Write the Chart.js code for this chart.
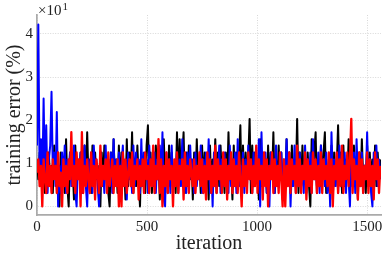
<!DOCTYPE html>
<html>
<head>
<meta charset="utf-8">
<script src="https://cdn.jsdelivr.net/npm/chart.js@4/dist/chart.umd.min.js"></script>
<style>
  html, body { margin: 0; padding: 0; background: #fff; }
  #chart { display: block; }
</style>
</head>
<body>
<canvas id="chart" width="386" height="257"></canvas>
<script>
// Error de entrenamiento (%), un punto cada 6 iteraciones
const iterStep = 6;

const errorRed = [
    7.8, 10.9, 4.7, 9.4, 0, 10.9, 6.3, 3.1, 12.5, 4.7, 9.4, 3.1, 10.9, 6.3, 9.4, 3.1, 12.5, 4.7, 7.8, 0,
    10.9, 4.7, 9.4, 3.1, 10.9, 6.3, 17.2, 4.7, 9.4, 3.1, 12.5, 6.3, 10.9, 0, 17.2, 3.1, 9.4, 4.7, 10.9, 6.3,
    3.1, 12.5, 4.7, 9.4, 1.6, 10.9, 7.8, 3.1, 14.1, 4.7, 9.4, 6.3, 10.9, 3.1, 12.5, 4.7, 7.8, 10.9, 3.1, 9.4,
    4.7, 10.9, 0, 9.4, 0, 12.5, 4.7, 10.9, 3.1, 7.8, 10.9, 4.7, 12.5, 3.1, 9.4, 6.3, 10.9, 1.6, 9.4, 4.7,
    10.9, 3.1, 12.5, 6.3, 9.4, 3.1, 10.9, 4.7, 14.1, 3.1, 9.4, 6.3, 15.6, 3.1, 10.9, 0, 9.4, 4.7, 12.5, 3.1,
    10.9, 6.3, 9.4, 0, 10.9, 4.7, 12.5, 3.1, 9.4, 6.3, 10.9, 1.6, 12.5, 4.7, 9.4, 3.1, 10.9, 7.8, 4.7, 10.9,
    3.1, 9.4, 6.3, 12.5, 4.7, 10.9, 3.1, 9.4, 1.6, 12.5, 6.3, 10.9, 3.1, 9.4, 4.7, 14.1, 3.1, 10.9, 6.3, 9.4,
    3.1, 12.5, 4.7, 10.9, 1.6, 9.4, 6.3, 12.5, 3.1, 10.9, 4.7, 9.4, 3.1, 12.5, 6.3, 0, 10.9, 4.7, 9.4, 3.1,
    12.5, 6.3, 10.9, 3.1, 9.4, 4.7, 14.1, 3.1, 10.9, 6.3, 9.4, 1.6, 12.5, 4.7, 10.9, 0, 9.4, 6.3, 12.5, 3.1,
    10.9, 4.7, 9.4, 3.1, 12.5, 6.3, 0, 10.9, 0, 9.4, 4.7, 12.5, 3.1, 10.9, 6.3, 9.4, 3.1, 14.1, 4.7, 10.9,
    3.1, 9.4, 6.3, 12.5, 1.6, 10.9, 4.7, 9.4, 3.1, 12.5, 6.3, 10.9, 3.1, 9.4, 4.7, 12.5, 3.1, 10.9, 6.3, 9.4,
    4.7, 12.5, 3.1, 10.9, 0, 9.4, 6.3, 12.5, 3.1, 10.9, 4.7, 14.1, 3.1, 9.4, 6.3, 12.5, 4.7, 10.9, 20.3, 3.1,
    10.9, 6.3, 9.4, 1.6, 12.5, 4.7, 10.9, 3.1, 9.4, 6.3, 12.5, 3.1, 10.9, 4.7, 9.4, 1.6, 12.5, 6.3, 10.9, 3.1,
    9.4
];

const errorBlue = [
    14.1, 42.2, 6.3, 15.6, 4.7, 25, 6.3, 18.8, 3.1, 10.9, 14.1, 26.6, 7.8, 12.5, 4.7, 21.9, 0, 9.4, 3.1, 12.5,
    6.3, 14.1, 3.1, 10.9, 7.8, 12.5, 4.7, 9.4, 14.1, 3.1, 0, 10.9, 6.3, 12.5, 3.1, 9.4, 14.1, 4.7, 0, 10.9,
    6.3, 12.5, 3.1, 14.1, 7.8, 10.9, 4.7, 0, 12.5, 6.3, 9.4, 3.1, 14.1, 4.7, 10.9, 6.3, 12.5, 3.1, 15.6, 4.7,
    10.9, 6.3, 12.5, 3.1, 9.4, 14.1, 4.7, 10.9, 1.6, 12.5, 6.3, 9.4, 3.1, 14.1, 4.7, 12.5, 6.3, 10.9, 3.1, 15.6,
    4.7, 12.5, 7.8, 10.9, 3.1, 14.1, 6.3, 9.4, 4.7, 12.5, 3.1, 10.9, 6.3, 14.1, 4.7, 17.2, 1.6, 0, 12.5, 6.3,
    10.9, 3.1, 14.1, 4.7, 9.4, 6.3, 12.5, 3.1, 10.9, 4.7, 15.6, 6.3, 9.4, 3.1, 12.5, 4.7, 14.1, 6.3, 10.9, 3.1,
    12.5, 4.7, 9.4, 6.3, 14.1, 3.1, 10.9, 4.7, 12.5, 6.3, 15.6, 3.1, 9.4, 0, 12.5, 4.7, 10.9, 6.3, 14.1, 3.1,
    10.9, 4.7, 12.5, 6.3, 9.4, 3.1, 14.1, 4.7, 10.9, 6.3, 12.5, 3.1, 15.6, 4.7, 9.4, 6.3, 12.5, 3.1, 10.9, 4.7,
    14.1, 6.3, 9.4, 3.1, 12.5, 4.7, 10.9, 6.3, 15.6, 0, 17.2, 4.7, 10.9, 12.5, 3.1, 9.4, 0, 12.5, 6.3, 10.9,
    3.1, 14.1, 4.7, 9.4, 6.3, 12.5, 3.1, 10.9, 4.7, 15.6, 6.3, 12.5, 0, 9.4, 4.7, 14.1, 3.1, 10.9, 6.3, 12.5,
    4.7, 9.4, 3.1, 14.1, 6.3, 10.9, 4.7, 12.5, 3.1, 15.6, 6.3, 9.4, 4.7, 12.5, 3.1, 14.1, 6.3, 10.9, 4.7, 12.5,
    3.1, 9.4, 0, 17.2, 6.3, 10.9, 4.7, 12.5, 3.1, 14.1, 6.3, 9.4, 4.7, 12.5, 3.1, 10.9, 6.3, 0, 14.1, 4.7,
    12.5, 3.1, 15.6, 6.3, 10.9, 4.7, 12.5, 3.1, 9.4, 6.3, 17.2, 4.7, 10.9, 3.1, 0, 12.5, 6.3, 14.1, 4.7, 10.9,
    6.3
];

const errorBlack = [
    10.9, 6.3, 12.5, 4.7, 9.4, 14.1, 3.1, 10.9, 6.3, 12.5, 4.7, 9.4, 3.1, 14.1, 6.3, 10.9, 4.7, 0, 12.5, 6.3,
    10.9, 3.1, 15.6, 4.7, 0, 12.5, 6.3, 9.4, 1.6, 14.1, 4.7, 10.9, 6.3, 12.5, 3.1, 9.4, 14.1, 4.7, 17.2, 6.3,
    10.9, 3.1, 14.1, 4.7, 12.5, 6.3, 9.4, 1.6, 0, 12.5, 4.7, 14.1, 6.3, 10.9, 3.1, 0, 12.5, 4.7, 15.6, 6.3,
    10.9, 3.1, 14.1, 4.7, 12.5, 6.3, 9.4, 1.6, 15.6, 4.7, 12.5, 6.3, 17.2, 3.1, 10.9, 4.7, 14.1, 6.3, 0, 12.5,
    4.7, 10.9, 3.1, 14.1, 18.8, 6.3, 12.5, 3.1, 9.4, 4.7, 14.1, 6.3, 10.9, 1.6, 12.5, 4.7, 15.6, 6.3, 10.9, 3.1,
    14.1, 4.7, 12.5, 6.3, 9.4, 3.1, 17.2, 4.7, 15.6, 6.3, 10.9, 17.2, 3.1, 12.5, 4.7, 14.1, 6.3, 10.9, 1.6, 12.5,
    4.7, 15.6, 6.3, 10.9, 3.1, 14.1, 4.7, 12.5, 6.3, 9.4, 1.6, 14.1, 4.7, 10.9, 6.3, 15.6, 3.1, 12.5, 4.7, 14.1,
    6.3, 10.9, 3.1, 12.5, 4.7, 17.2, 6.3, 9.4, 1.6, 14.1, 4.7, 12.5, 6.3, 10.9, 18.8, 3.1, 14.1, 4.7, 12.5, 6.3,
    10.9, 20.3, 3.1, 14.1, 4.7, 12.5, 6.3, 9.4, 1.6, 15.6, 4.7, 12.5, 6.3, 10.9, 3.1, 14.1, 4.7, 12.5, 6.3, 17.2,
    3.1, 10.9, 4.7, 14.1, 6.3, 12.5, 1.6, 9.4, 4.7, 15.6, 6.3, 12.5, 3.1, 14.1, 4.7, 10.9, 6.3, 20.3, 3.1, 12.5,
    4.7, 14.1, 6.3, 10.9, 3.1, 12.5, 4.7, 0, 15.6, 6.3, 12.5, 17.2, 3.1, 10.9, 4.7, 14.1, 6.3, 12.5, 17.2, 3.1,
    4.7, 10.9, 6.3, 14.1, 1.6, 12.5, 4.7, 9.4, 18.8, 6.3, 12.5, 3.1, 14.1, 4.7, 10.9, 6.3, 15.6, 3.1, 12.5, 4.7,
    14.1, 6.3, 10.9, 1.6, 12.5, 4.7, 15.6, 6.3, 9.4, 3.1, 14.1, 4.7, 12.5, 6.3, 10.9, 3.1, 14.1, 4.7, 12.5, 6.3,
    10.9
];

// Marcas de los ejes
const xTicks = [0, 500, 1000, 1500];
const yTicks = [0, 10, 20, 30, 40];

const serif = 'Liberation Serif';

// Convertir una serie en puntos {x, y}
function toPoints(values) {
    return values.map((v, i) => ({ x: i * iterStep, y: v }));
}

// Etiqueta "×10^1" sobre el eje y
const exponentLabel = {
    id: 'exponentLabel',
    afterDraw(chart) {
        const ctx = chart.ctx;
        ctx.save();
        ctx.fillStyle = '#222';
        ctx.textBaseline = 'alphabetic';
        ctx.font = '15px "' + serif + '"';
        ctx.fillText('×10', 38, 15);
        const w = ctx.measureText('×10').width;
        ctx.font = '11px "' + serif + '"';
        ctx.fillText('1', 38 + w + 1, 10);
        ctx.restore();
    }
};

const gridStyle = {
    color: '#d8d8d8',
    lineWidth: 1,
    drawTicks: false
};

const borderStyle = {
    color: '#aaaaaa',
    width: 1.7,
    dash: [1, 1.5]
};

new Chart(document.getElementById('chart'), {
    type: 'line',
    data: {
        datasets: [
            { label: 'rojo', data: toPoints(errorRed), borderColor: '#ff0000', borderWidth: 2.3 },
            { label: 'azul', data: toPoints(errorBlue), borderColor: '#0000ff', borderWidth: 2 },
            { label: 'negro', data: toPoints(errorBlack), borderColor: '#000000', borderWidth: 2 }
        ]
    },
    options: {
        responsive: false,
        animation: false,
        devicePixelRatio: 1,
        layout: { padding: { top: 15, right: 5, bottom: 0, left: 0 } },
        elements: {
            point: { radius: 0 },
            line: { tension: 0, fill: false, borderJoinStyle: 'round' }
        },
        plugins: {
            legend: { display: false },
            tooltip: { enabled: false }
        },
        scales: {
            x: {
                type: 'linear',
                min: 0,
                max: 1563,
                afterBuildTicks: scale => { scale.ticks = xTicks.map(v => ({ value: v })); },
                afterFit: scale => { scale.height = 42; },
                grid: gridStyle,
                border: borderStyle,
                ticks: {
                    padding: 3,
                    color: '#222',
                    font: { family: serif, size: 15 },
                    maxRotation: 0,
                    callback: value => String(value)
                },
                title: {
                    display: true,
                    text: 'iteration',
                    color: '#222',
                    font: { family: serif, size: 20 },
                    padding: { top: 0, bottom: 1 }
                }
            },
            y: {
                min: -2,
                max: 44.4,
                afterBuildTicks: scale => { scale.ticks = yTicks.map(v => ({ value: v })); },
                afterFit: scale => { scale.width = 37; },
                grid: gridStyle,
                border: borderStyle,
                ticks: {
                    padding: 4,
                    color: '#222',
                    font: { family: serif, size: 15 },
                    callback: value => String(value / 10)
                },
                title: {
                    display: true,
                    text: 'training error (%)',
                    color: '#222',
                    font: { family: serif, size: 20 },
                    padding: { top: 3, bottom: 0 }
                }
            }
        }
    },
    plugins: [exponentLabel]
});
</script>
</body>
</html>
